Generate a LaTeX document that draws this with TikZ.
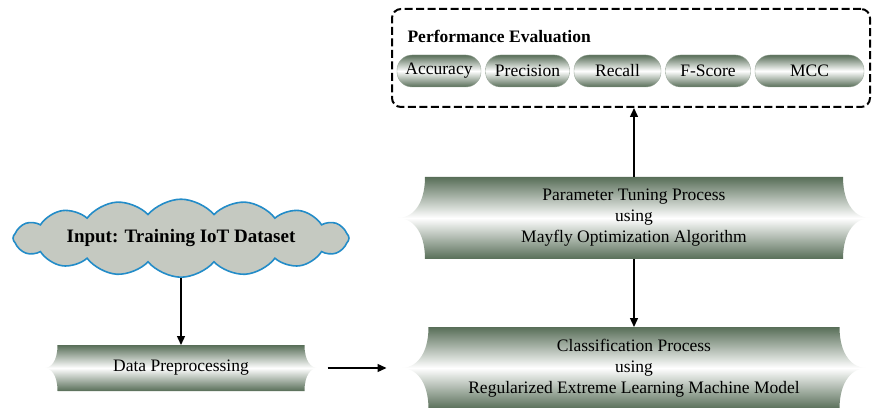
\documentclass[tikz,border=0pt]{standalone}
\usepackage{fontspec}
\setmainfont{Liberation Serif}
\usepackage{xcolor}
\usepackage{tikz}
\usetikzlibrary{arrows.meta,positioning,calc,shapes.symbols}
\definecolor{bandgreen}{RGB}{88,110,88}
\definecolor{cloudfill}{RGB}{197,201,193}
\definecolor{cloudline}{RGB}{35,140,200}
\newcommand{\bandpath}[1]{%
  \path (path picture bounding box.north west) ++(#1,0) coordinate (bnw)
        (path picture bounding box.south west) ++(#1,0) coordinate (bsw)
        (path picture bounding box.north east) ++(-#1,0) coordinate (bne)
        (path picture bounding box.south east) ++(-#1,0) coordinate (bse)
        (path picture bounding box.west) coordinate (bw)
        (path picture bounding box.east) coordinate (be);
  \shade[top color=bandgreen, bottom color=bandgreen, middle color=white]
    (bnw) .. controls ($(bnw)!0.7!(bnw|-bw)$) and ($(bw)!0.5!(bnw|-bw)$) .. (bw)
    .. controls ($(bw)!0.5!(bsw|-bw)$) and ($(bsw)!0.7!(bsw|-bw)$) .. (bsw)
    -- (bse)
    .. controls ($(bse)!0.7!(bse|-be)$) and ($(be)!0.5!(bse|-be)$) .. (be)
    .. controls ($(be)!0.5!(bne|-be)$) and ($(bne)!0.7!(bne|-be)$) .. (bne)
    -- cycle;
}
\tikzset{
  procband/.style={
    align=center,
    inner sep=0pt,
    outer sep=0pt,
    font=\fontsize{17.5}{21}\selectfont,
    path picture={\bandpath{#1}}
  },
  evalpill/.style={
    minimum width=#1,
    minimum height=32pt,
    inner sep=0pt,
    outer sep=0pt,
    rounded corners=15pt,
    top color=bandgreen,
    bottom color=bandgreen,
    middle color=white,
    draw=bandgreen!60,
    font=\fontsize{17.5}{21}\selectfont
  },
  evalframe/.style={
    draw,
    dash pattern=on 8pt off 3.5pt,
    line width=2pt,
    rounded corners=9pt,
    inner sep=0pt
  },
  inputcloud/.style={
    cloud,
    cloud puffs=16,
    cloud puff arc=100,
    cloud ignores aspect,
    draw=cloudline,
    line width=1.6pt,
    fill=cloudfill,
    inner sep=0pt,
    font=\fontsize{19}{22}\selectfont\bfseries
  },
  flowarrow/.style={
    -{Triangle[length=9pt,width=8pt]},
    line width=1.4pt
  }
}
\begin{document}
\begin{tikzpicture}[x=1pt,y=1pt]
    \useasboundingbox (0,0) rectangle (872,407);
    \node[procband=27pt, minimum width=472pt, minimum height=82pt] (tune) at (634,189) {Parameter Tuning Process\\using\\Mayfly Optimization Algorithm};
    \node[procband=27pt, minimum width=465pt, minimum height=82pt, below=68pt of tune] (classify) {Classification Process\\using\\Regularized Extreme Learning Machine Model};
    \node[procband=13pt, minimum width=273pt, minimum height=46pt, left=84pt of classify] (prep) {Data Preprocessing};
    \node[inputcloud, minimum width=336pt, minimum height=78pt, above=67pt of prep] (input) {Input: Training IoT Dataset};

    \node[evalframe, minimum width=478pt, minimum height=98pt, above=69pt of tune, xshift=-3pt] (eval) {};
    \node[anchor=west, font=\fontsize{17.5}{21}\selectfont\bfseries] (evalhead) at ([xshift=13pt,yshift=-28pt]eval.north west) {Performance Evaluation};
    \node[evalpill=84pt, anchor=west] (acc) at ([xshift=6pt,yshift=-13pt]eval.west) {Accuracy};
    \node[evalpill=84pt, right=4.5pt of acc] (prec) {Precision};
    \node[evalpill=87pt, right=4.5pt of prec] (rec) {Recall};
    \node[evalpill=85pt, right=4.5pt of rec] (fsc) {F-Score};
    \node[evalpill=109pt, right=4.5pt of fsc] (mcc) {MCC};

    \draw[flowarrow] (input) -- (prep);
    \draw[flowarrow, shorten <=10pt, shorten >=15pt] (prep) -- (classify);
    \draw[flowarrow] (tune) -- (classify);
    \draw[flowarrow] (tune) -- (eval.south -| tune);
  \end{tikzpicture}
\end{document}
